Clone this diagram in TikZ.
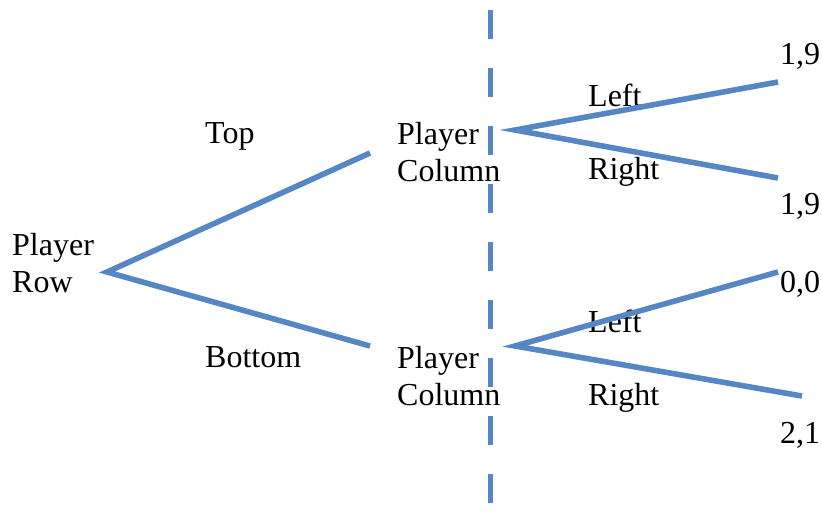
\documentclass[tikz,border=0pt]{standalone}
\usepackage{fontspec}
\setmainfont{Liberation Serif}
\definecolor{branch}{RGB}{84,135,195}
\begin{document}
\begin{tikzpicture}[x=1pt,y=-1pt,
  lbl/.style={anchor=base west,inner sep=0pt,font=\fontsize{32}{37}\selectfont,align=left},
  edge/.style={draw=branch,line width=5.5pt},
  shade/.style={draw=black,opacity=0.12,line width=5.5pt},
  divider/.style={draw=branch,line width=5pt,dash pattern=on 29pt off 29pt}]
\useasboundingbox (0,0) rectangle (822,515);
% coordinates
\coordinate (r) at (107,272);
\coordinate (t1) at (370,153);
\coordinate (b1) at (370,346);
\coordinate (c1) at (515,130);
\coordinate (c1l) at (778,82);
\coordinate (c1r) at (778,178);
\coordinate (c2) at (515,346);
\coordinate (c2l) at (778,272);
\coordinate (c2r) at (802,396);
\coordinate (dtop) at (490,10);
\coordinate (dbot) at (490,515);
% labels
\node[lbl] (row) at (12,292) {Player\\Row};
\node[lbl] (top) at (205,143) {Top};
\node[lbl] (bottom) at (205,367) {Bottom};
\node[lbl] (pc1) at (397,181) {Player\\Column};
\node[lbl] (pc2) at (397,405) {Player\\Column};
\node[lbl] (l1) at (588,106) {Left};
\node[lbl] (r1) at (588,179) {Right};
\node[lbl] (l2) at (588,332) {Left};
\node[lbl] (r2) at (588,405) {Right};
\node[lbl] (p1) at (780,64) {1,9};
\node[lbl] (p2) at (780,214) {1,9};
\node[lbl] (p3) at (780,292) {0,0};
\node[lbl] (p4) at (780,443) {2,1};
% shadows
\begin{scope}[shift={(1.5,2)}]
\draw[shade] (t1) -- (r) -- (b1);
\draw[shade] (c1l) -- (c1) -- (c1r);
\draw[shade] (c2l) -- (c2) -- (c2r);
\end{scope}
% branches
\draw[edge] (t1) -- (r) -- (b1);
\draw[edge] (c1l) -- (c1) -- (c1r);
\draw[edge] (c2l) -- (c2) -- (c2r);
\draw[divider] (dtop) -- (dbot);
\end{tikzpicture}
\end{document}
